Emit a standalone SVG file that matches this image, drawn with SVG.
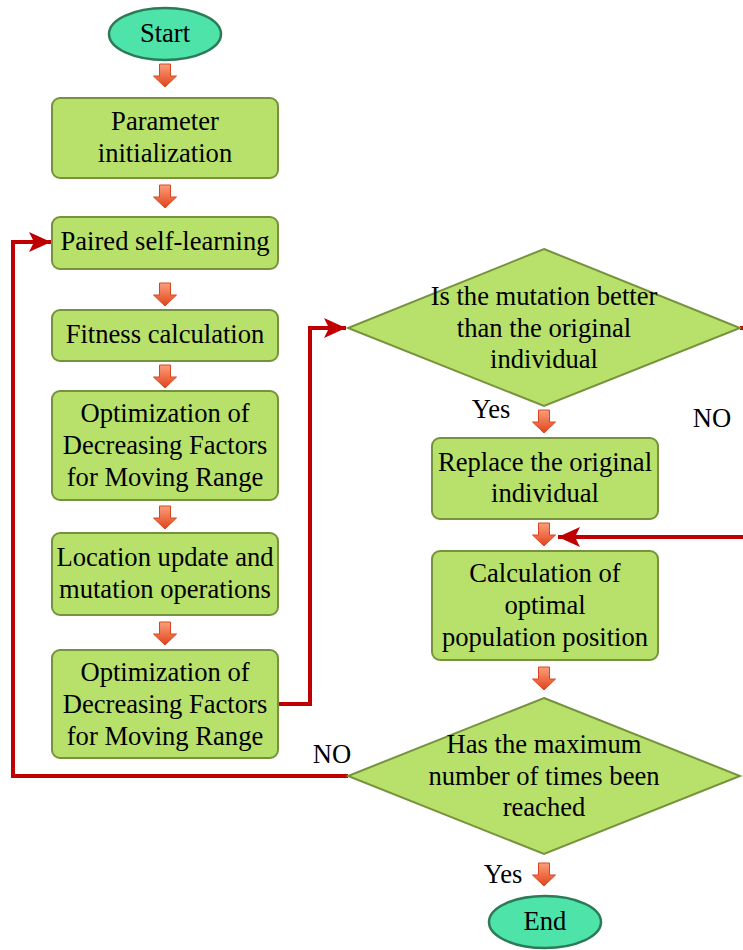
<svg xmlns="http://www.w3.org/2000/svg" width="743" height="950" viewBox="0 0 743 950" font-family="Liberation Serif, Times New Roman, serif" font-size="26.6" text-anchor="middle">
<defs>
<linearGradient id="og" x1="0" y1="0" x2="0" y2="1">
<stop offset="0" stop-color="#fb9f7c"/>
<stop offset="1" stop-color="#e2431a"/>
</linearGradient>
<path id="ba" d="M-5.5,0 H5.5 V12 H11.5 L0,23 L-11.5,12 H-5.5 Z" fill="url(#og)" stroke="#d8461f" stroke-width="1"/>
<marker id="ah" markerUnits="userSpaceOnUse" markerWidth="24" markerHeight="22" refX="22" refY="10" orient="auto">
<path d="M0,0 L22,10 L0,20 L5,10 Z" fill="#c00000"/>
</marker>
</defs>
<style>
.box{fill:#b8e16c;stroke:#76923c;stroke-width:2}
.dia{fill:#b8e16c;stroke:#76923c;stroke-width:2}
.ell{fill:#4de3a9;stroke:#2c7a58;stroke-width:2.5}
.c{fill:none;stroke:#c00000;stroke-width:4;stroke-linejoin:miter}
</style>
<g id="connectors">
<use href="#ba" x="165" y="64"/>
<use href="#ba" x="165" y="185"/>
<use href="#ba" x="165" y="283"/>
<use href="#ba" x="165" y="365"/>
<use href="#ba" x="165" y="506"/>
<use href="#ba" x="165" y="622"/>
<use href="#ba" x="544" y="410"/>
<use href="#ba" x="544" y="523"/>
<use href="#ba" x="544" y="667"/>
<use href="#ba" x="544" y="863"/>
<path class="c" d="M278,704 H310 V328 H346" marker-end="url(#ah)"/>
<path class="c" d="M348,776 H13 V242 H51" marker-end="url(#ah)"/>
<path class="c" d="M740,328 H745"/>
<path class="c" d="M745,537 H558" marker-end="url(#ah)"/>
<text x="491" y="418">Yes</text>
<text x="712" y="427">NO</text>
<text x="332" y="763">NO</text>
<text x="503" y="883">Yes</text>
</g>
<g id="start">
<ellipse class="ell" cx="165" cy="34" rx="56" ry="26"/>
<text x="165" y="42">Start</text>
</g>
<g id="param">
<rect class="box" x="52" y="98" width="226" height="80" rx="8"/>
<text x="165" y="130">Parameter</text>
<text x="165" y="162">initialization</text>
</g>
<g id="paired">
<rect class="box" x="52" y="217" width="226" height="52" rx="8"/>
<text x="165" y="250">Paired self-learning</text>
</g>
<g id="fitness">
<rect class="box" x="52" y="310" width="226" height="51" rx="8"/>
<text x="165" y="343">Fitness calculation</text>
</g>
<g id="opt1">
<rect class="box" x="52" y="391" width="226" height="109" rx="8"/>
<text x="165" y="422">Optimization of</text>
<text x="165" y="454">Decreasing Factors</text>
<text x="165" y="486">for Moving Range</text>
</g>
<g id="location">
<rect class="box" x="52" y="533" width="226" height="82" rx="8"/>
<text x="165" y="566">Location update and</text>
<text x="165" y="598">mutation operations</text>
</g>
<g id="opt2">
<rect class="box" x="52" y="650" width="226" height="108" rx="8"/>
<text x="165" y="681">Optimization of</text>
<text x="165" y="713">Decreasing Factors</text>
<text x="165" y="745">for Moving Range</text>
</g>
<g id="dec1">
<polygon class="dia" points="544,249 740,328 544,406 348,328"/>
<text x="544" y="305">Is the mutation better</text>
<text x="544" y="337">than the original</text>
<text x="544" y="368">individual</text>
</g>
<g id="replace">
<rect class="box" x="432" y="438" width="226" height="81" rx="8"/>
<text x="545" y="471">Replace the original</text>
<text x="545" y="502">individual</text>
</g>
<g id="calc">
<rect class="box" x="432" y="551" width="226" height="109" rx="8"/>
<text x="545" y="582">Calculation of</text>
<text x="545" y="614">optimal</text>
<text x="545" y="646">population position</text>
</g>
<g id="dec2">
<polygon class="dia" points="544,698 740,776 544,854 348,776"/>
<text x="544" y="753">Has the maximum</text>
<text x="544" y="785">number of times been</text>
<text x="544" y="816">reached</text>
</g>
<g id="end">
<ellipse class="ell" cx="545" cy="922" rx="56" ry="26"/>
<text x="545" y="930">End</text>
</g>
</svg>
